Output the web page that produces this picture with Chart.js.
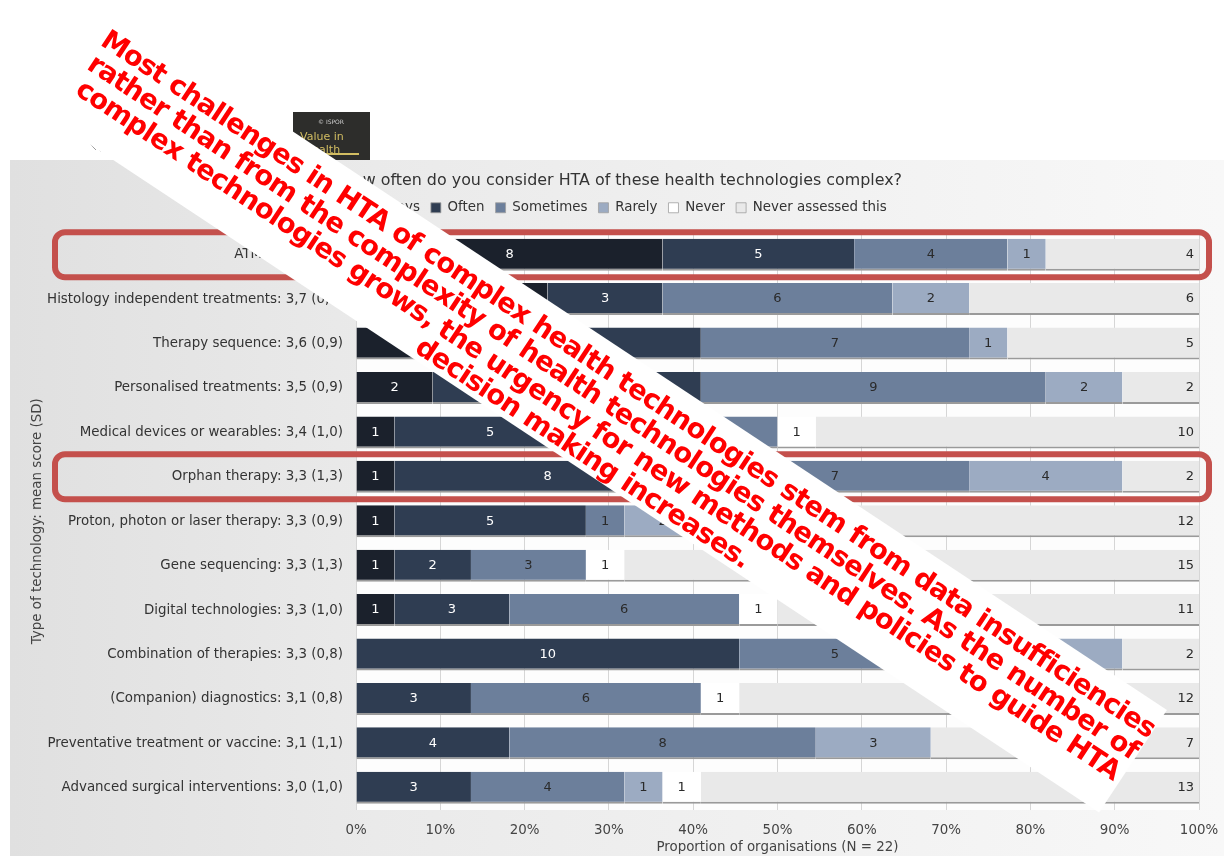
<!DOCTYPE html>
<html>
<head>
<meta charset="utf-8">
<title>Complexity of HTA by technology</title>
<script src="https://cdn.jsdelivr.net/npm/chart.js@4.4.1/dist/chart.umd.min.js"></script>
<style>
  html, body { margin: 0; padding: 0; background: #fff; }
  #chart { display: block; }
</style>
</head>
<body>
<canvas id="chart" width="1224" height="856"></canvas>
<script>
// Survey data: number of organisations (N = 22) per answer
const N = 22;
const technologies = [
  'ATMPs: 4,1 (1,0)',
  'Histology independent treatments: 3,7 (0,9)',
  'Therapy sequence: 3,6 (0,9)',
  'Personalised treatments: 3,5 (0,9)',
  'Medical devices or wearables: 3,4 (1,0)',
  'Orphan therapy: 3,3 (1,3)',
  'Proton, photon or laser therapy: 3,3 (0,9)',
  'Gene sequencing: 3,3 (1,3)',
  'Digital technologies: 3,3 (1,0)',
  'Combination of therapies: 3,3 (0,8)',
  '(Companion) diagnostics: 3,1 (0,8)',
  'Preventative treatment or vaccine: 3,1 (1,1)',
  'Advanced surgical interventions: 3,0 (1,0)'
];
const answers = ['Always', 'Often', 'Sometimes', 'Rarely', 'Never', 'Never assessed this'];
const always        = [8, 5, 3, 2, 1, 1, 1, 1, 1, 0, 0, 0, 0];
const often         = [5, 3, 6, 7, 5, 8, 5, 2, 3, 10, 3, 4, 3];
const sometimes     = [4, 6, 7, 9, 5, 7, 1, 3, 6, 5, 6, 8, 4];
const rarely        = [1, 2, 1, 2, 0, 4, 2, 0, 0, 5, 0, 3, 1];
const never         = [0, 0, 0, 0, 1, 0, 1, 1, 1, 0, 1, 0, 1];
const neverAssessed = [4, 6, 5, 2, 10, 2, 12, 15, 11, 2, 12, 7, 13];
const highlighted = [0, 5]; // rows boxed in red

const chartTitle = 'How often do you consider HTA of these health technologies complex?';
const xTitle = 'Proportion of organisations (N = 22)';
const yTitle = 'Type of technology: mean score (SD)';
const bannerLines = [
  'Most challenges in HTA of complex health technologies stem from data insufficiencies',
  'rather than from the complexity of health technologies themselves. As the number of',
  'complex technologies grows, the urgency for new methods and policies to guide HTA',
  'decision making increases.'
];

const colors = ['#1b212c', '#2f3d52', '#6c7f9b', '#9cabc2', '#ffffff', '#e9e9e9'];
const labelColors = ['#fff', '#fff', '#2a2a2a', '#2a2a2a', '#2a2a2a', '#2a2a2a'];
const counts = [always, often, sometimes, rarely, never, neverAssessed];

Chart.defaults.font.family = '"DejaVu Sans", Verdana, sans-serif';

const datasets = answers.map((name, i) => ({
  label: name,
  data: counts[i].map(v => v / N * 100),
  counts: counts[i],
  backgroundColor: colors[i],
  borderColor: '#9a9a9a',
  borderWidth: { top: 0, left: 0, right: 0, bottom: 2 },
  borderSkipped: false,
  barPercentage: 0.72,
  categoryPercentage: 1
}));

// page background, grey panel, journal thumbnail, white plot area
const backdrop = {
  id: 'backdrop',
  beforeDraw(chart) {
    const { ctx, chartArea: a } = chart;
    ctx.save();
    ctx.fillStyle = '#fff';
    ctx.fillRect(0, 0, chart.width, chart.height);
    const g = ctx.createLinearGradient(10, 0, chart.width, 0);
    g.addColorStop(0, '#e0e0e0');
    g.addColorStop(0.3, '#eaeaea');
    g.addColorStop(1, '#f8f8f8');
    ctx.fillStyle = g;
    ctx.fillRect(10, 160, chart.width - 10, chart.height - 160);
    // thumbnail of the journal cover
    ctx.fillStyle = '#2d2d2b';
    ctx.fillRect(293, 112, 77, 48);
    ctx.fillStyle = '#cfcfcf';
    ctx.font = '6px "DejaVu Sans"';
    ctx.fillText('© ISPOR', 318, 122);
    ctx.fillStyle = '#d2bd62';
    ctx.font = '11px "DejaVu Sans"';
    ctx.fillText('Value in', 300, 137);
    ctx.fillText('Health', 304, 150);
    ctx.fillRect(301, 153, 58, 2);
    // faint sketch left of the thumbnail
    ctx.strokeStyle = '#9a9a9a';
    ctx.lineWidth = 1;
    for (let k = 0; k < 6; k++) {
      ctx.beginPath();
      ctx.moveTo(88 + k * 5, 142 + k * 2);
      ctx.lineTo(96 + k * 5, 150 + k * 1.5);
      ctx.stroke();
    }
    ctx.fillStyle = '#fdfdfd';
    ctx.fillRect(a.left, a.top, a.right - a.left, a.bottom - a.top);
    ctx.restore();
  }
};

// gap between legend and bars
const spacer = {
  id: 'spacer',
  beforeInit(chart) {
    Chart.layouts.addBox(chart, {
      position: 'top', weight: 1, fullSize: true, options: {},
      top: 0, left: 0, right: 0, bottom: 0, width: 0, height: 0,
      update(maxWidth) { this.width = maxWidth; this.height = 8; },
      isHorizontal() { return true; },
      draw() {}
    });
  }
};

// counts written inside the segments
const valueLabels = {
  id: 'valueLabels',
  afterDatasetsDraw(chart) {
    const { ctx } = chart;
    ctx.save();
    ctx.font = '13px "DejaVu Sans"';
    ctx.textBaseline = 'middle';
    chart.data.datasets.forEach((ds, i) => {
      const meta = chart.getDatasetMeta(i);
      ctx.fillStyle = labelColors[i];
      meta.data.forEach((bar, j) => {
        const v = ds.counts[j];
        if (!v) return;
        if (i === answers.length - 1) {
          ctx.textAlign = 'right';
          ctx.fillText(v, bar.x - 5, bar.y);
        } else {
          ctx.textAlign = 'center';
          ctx.fillText(v, (bar.x + bar.base) / 2, bar.y);
        }
      });
    });
    ctx.restore();
  }
};

// red boxes and diagonal banner
const overlay = {
  id: 'overlay',
  afterDraw(chart) {
    const { ctx, scales: { y } } = chart;
    ctx.save();
    ctx.strokeStyle = '#c4504c';
    ctx.lineWidth = 6;
    highlighted.forEach(idx => {
      const cy = y.getPixelForValue(idx);
      ctx.beginPath();
      ctx.roundRect(55, cy - 22.5, 1154, 45, 10);
      ctx.stroke();
    });

    const angle = 33.5 * Math.PI / 180;
    ctx.rotate(angle);
    ctx.fillStyle = '#fff';
    ctx.fillRect(70, -52, 1295, 123);
    ctx.font = 'bold 100px "DejaVu Sans"';
    const fit = 100 * 1255 / ctx.measureText(bannerLines[0]).width;
    const size = fit * 1.06;
    ctx.font = 'bold ' + size.toFixed(2) + 'px "DejaVu Sans"';
    const natural = ctx.measureText(bannerLines[0]).width;
    ctx.letterSpacing = ((1255 - natural) / bannerLines[0].length).toFixed(2) + 'px';
    ctx.fillStyle = '#ff0000';
    ctx.textAlign = 'center';
    ctx.textBaseline = 'middle';
    bannerLines.forEach((t, i) => ctx.fillText(t, 736, -25 + i * 27.5));
    ctx.restore();
  }
};

new Chart(document.getElementById('chart'), {
  type: 'bar',
  data: { labels: technologies, datasets },
  plugins: [backdrop, spacer, valueLabels, overlay],
  options: {
    responsive: false,
    animation: false,
    indexAxis: 'y',
    layout: { padding: { top: 171, left: 44, right: 25, bottom: 0 } },
    plugins: {
      tooltip: { enabled: false },
      title: {
        display: true, text: chartTitle, color: '#333',
        font: { size: 15.9, weight: 'normal' }, padding: { top: 0, bottom: 0 }
      },
      legend: {
        position: 'top',
        labels: {
          boxWidth: 10, boxHeight: 10, padding: 11, color: '#333', font: { size: 13.4 },
          generateLabels(chart) {
            return Chart.defaults.plugins.legend.labels.generateLabels(chart).map(l => {
              l.strokeStyle = '#a0a0a0';
              l.lineWidth = 0.8;
              return l;
            });
          }
        }
      }
    },
    scales: {
      x: {
        stacked: true, min: 0, max: 100,
        ticks: { stepSize: 10, callback: v => v + '%', padding: 12, color: '#444', font: { size: 13.4 } },
        grid: { color: '#d6d6d6', drawTicks: false },
        border: { display: false },
        title: { display: true, text: xTitle, color: '#444', font: { size: 13.4 }, padding: { top: 2, bottom: 0 } },
        afterFit(s) { s.height = 46; s.paddingLeft = 0; s.paddingRight = 0; }
      },
      y: {
        stacked: true,
        ticks: { padding: 13, color: '#333', font: { size: 13.4 }, autoSkip: false },
        grid: { display: false, drawTicks: false },
        border: { display: false },
        title: { display: true, text: yTitle, color: '#444', font: { size: 13.4 }, padding: { top: -15 } },
        afterFit(s) { s.width = 312; }
      }
    }
  }
});
</script>
</body>
</html>
